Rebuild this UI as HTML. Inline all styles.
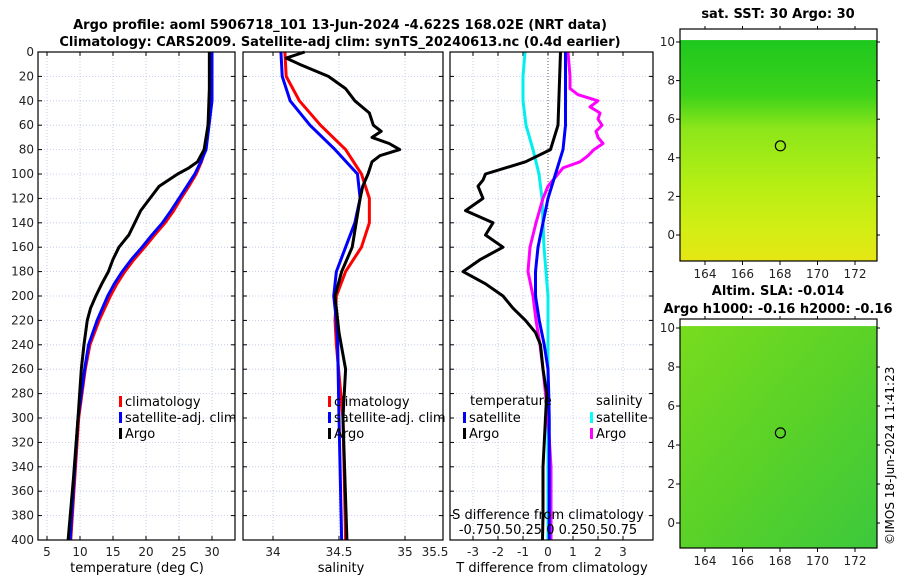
<!DOCTYPE html>
<html><head><meta charset="utf-8"><style>
body{margin:0;background:#fff}
svg{font-family:"DejaVu Sans","Liberation Sans",sans-serif}
</style></head><body>
<svg id="c" width="900" height="580" viewBox="0 0 900 580">
<defs>
<linearGradient id="g1" x1="0" y1="0" x2="0" y2="1">
<stop offset="0" stop-color="#1ec81e"/><stop offset="0.25" stop-color="#3cd21a"/><stop offset="0.4" stop-color="#8ce61a"/><stop offset="0.65" stop-color="#b4ee14"/><stop offset="0.85" stop-color="#d2ee14"/><stop offset="1" stop-color="#e6e614"/>
</linearGradient>
<linearGradient id="g2" x1="0" y1="0" x2="1" y2="1">
<stop offset="0" stop-color="#78dc1e"/><stop offset="0.5" stop-color="#5ad228"/><stop offset="1" stop-color="#3cc83c"/>
</linearGradient>
</defs>
<text x="340" y="29" text-anchor="middle" font-size="13" font-weight="bold">Argo profile: aoml 5906718_101 13-Jun-2024 -4.622S 168.02E (NRT data)</text>
<text x="340" y="46" text-anchor="middle" font-size="13" font-weight="bold">Climatology: CARS2009. Satellite-adj clim: synTS_20240613.nc (0.4d earlier)</text>
<g id="plots"></g>
<text x="778" y="18" text-anchor="middle" font-size="13" font-weight="bold">sat. SST: 30 Argo: 30</text>
<text x="778" y="295" text-anchor="middle" font-size="13" font-weight="bold">Altim. SLA: -0.014</text>
<text x="778" y="313" text-anchor="middle" font-size="13" font-weight="bold">Argo h1000: -0.16 h2000: -0.16</text>
<text transform="translate(894,545) rotate(-90)" font-size="12">©IMOS 18-Jun-2024 11:41:23</text>
</svg>
<script>
const depthTicks=[0,20,40,60,80,100,120,140,160,180,200,220,240,260,280,300,320,340,360,380,400];
const tempTicks=[5,10,15,20,25,30];
const salTicks=[34,34.5,35];
const tdiffTicks=[-3,-2,-1,0,1,2,3];
const lonTicks=[164,166,168,170,172];
const latTicks=[0,2,4,6,8,10];
// panel 1 temperature
const tDepth=[0,40,80,90,100,110,120,130,140,150,160,170,180,190,200,220,240,260,300,350,400];
const tClim=[29.8,29.8,29.0,28.4,27.6,26.5,25.3,24.2,22.9,21.3,19.8,18.2,16.8,15.6,14.6,12.9,11.5,10.8,9.8,9.2,8.6];
const tSat=[30.0,30.0,29.1,28.3,27.4,26.2,25.0,23.8,22.5,20.9,19.4,17.8,16.4,15.2,14.2,12.6,11.3,10.7,9.7,9.1,8.5];
const argoTDepth=[0,30,60,80,90,95,100,105,110,120,130,140,150,160,170,180,190,200,210,220,240,260,300,350,400];
const argoT=[29.6,29.6,29.4,28.8,27.8,26.5,24.8,23.4,22.0,20.6,19.2,18.3,17.4,15.9,15.0,14.3,13.3,12.4,11.6,11.1,10.6,10.2,9.7,9.0,8.2];
// panel 2 salinity
const sDepth=[0,20,40,60,80,100,120,140,160,180,200,220,240,300,400];
const sClim=[34.09,34.10,34.20,34.36,34.55,34.67,34.73,34.73,34.67,34.55,34.48,34.47,34.48,34.53,34.55];
const sSat=[34.06,34.07,34.13,34.28,34.47,34.64,34.66,34.62,34.55,34.48,34.46,34.48,34.49,34.50,34.52];
const argoSDepth=[0,5,10,20,30,40,50,60,65,70,75,80,85,90,100,110,120,140,160,180,200,230,260,300,400];
const argoS=[34.24,34.1,34.2,34.42,34.55,34.62,34.73,34.76,34.82,34.75,34.88,34.96,34.81,34.75,34.72,34.68,34.66,34.63,34.60,34.52,34.47,34.50,34.55,34.53,34.56];
// panel 3 differences
const dDepth=[0,20,40,60,80,100,120,140,160,180,200,220,240,260,280,300,320,360,400];
const dTSat=[0.7,0.7,0.7,0.7,0.6,0.3,0.0,-0.2,-0.4,-0.5,-0.5,-0.35,-0.15,0,0.03,0.05,0.05,0.05,0.05];
const dSSat=[-0.23,-0.25,-0.25,-0.22,-0.15,-0.09,-0.06,-0.05,-0.04,-0.02,0,0,0,0,0,0,0,0,0];
const dTArgoDepth=[0,60,80,90,100,105,110,120,130,140,150,160,170,180,190,200,210,220,230,240,260,280,300,320,340,360,380,400];
const dTArgo=[0.5,0.4,0.1,-0.9,-2.5,-2.6,-2.8,-2.6,-3.3,-2.2,-2.5,-1.8,-2.7,-3.4,-2.5,-1.8,-1.4,-0.9,-0.5,-0.3,-0.2,-0.05,-0.1,-0.15,-0.2,-0.2,-0.2,-0.22];
const dSArgo=[0.2,0.22,0.22,0.30,0.50,0.42,0.52,0.50,0.54,0.48,0.50,0.55,0.46,0.40,0.32,0.15,0.10,0.05,0.0,-0.05,-0.12,-0.18,-0.20,-0.15,-0.12,-0.08,-0.05,0,0.03,0.03];
const dSArgoDepth=[0,20,30,35,40,45,50,55,60,65,70,75,80,85,90,95,100,105,110,120,140,160,180,200,220,240,260,300,340,400];

const NS='http://www.w3.org/2000/svg';
const root=document.getElementById('plots');
function el(t,a,p){const e=document.createElementNS(NS,t);for(const k in a)e.setAttribute(k,a[k]);(p||root).appendChild(e);return e;}
const Y0=52,Y1=540;
const yD=d=>Y0+(d/400)*(Y1-Y0);

function frame(name){
  const g=el('g',{});
  
  
  return g;
}
function gridAndAxes(g,x0,x1,xs,xticks,depthLabels){
  depthTicks.forEach(d=>{
    const l=el('line',{x1:x0,x2:x1,y1:yD(d),y2:yD(d),stroke:'#b8c4e8','stroke-dasharray':'1,2','stroke-width':0.8},g);
    
    
    el('line',{x1:x0,x2:x0+4,y1:yD(d),y2:yD(d),stroke:'#000'},g);
    el('line',{x1:x1-4,x2:x1,y1:yD(d),y2:yD(d),stroke:'#000'},g);
    if(depthLabels){const t=el('text',{x:x0-4,y:yD(d)+4,'text-anchor':'end','font-size':12,fill:'#222'},g);t.textContent=d;
      
      }
  });
  xticks.forEach(v=>{
    const X=xs(v);
    el('line',{x1:X,x2:X,y1:Y0,y2:Y1,stroke:'#b8c4e8','stroke-dasharray':'1,2','stroke-width':0.8},g);
    el('line',{x1:X,x2:X,y1:Y1-4,y2:Y1,stroke:'#000'},g);
    el('line',{x1:X,x2:X,y1:Y0,y2:Y0+4,stroke:'#000'},g);
    const t=el('text',{x:X,y:Y1+16,'text-anchor':'middle','font-size':12,fill:'#222'},g);t.textContent=v;
    
    
  });
}
function line(g,xs,vals,depths,color,name,w){
  const p=el('polyline',{points:vals.map((v,i)=>xs(v)+','+yD(depths[i])).join(' '),fill:'none',stroke:color,'stroke-width':w||3,'stroke-linejoin':'round'},g);
  
  
}
function border(g,x0,x1){el('rect',{x:x0,y:Y0,width:x1-x0,height:Y1-Y0,fill:'none',stroke:'#000','stroke-width':1.2},g);}
function legendEntry(g,x,y,color,text,name){
  el('rect',{x:x,y:y-10,width:3,height:11,fill:color},g);
  const t=el('text',{x:x+6,y:y,'font-size':13,fill:'#000'},g);t.textContent=text;
  
  
}
// Panel 1
{const x0=38,x1=235,xs=v=>47+(v-5)*6.6;const g=frame('temperature-panel');
gridAndAxes(g,x0,x1,xs,tempTicks,true);
line(g,xs,tClim,tDepth,'#ff0000','temp-climatology-line');
line(g,xs,tSat,tDepth,'#0000ff','temp-satellite-line');
line(g,xs,argoT,argoTDepth,'#000','temp-argo-line');
border(g,x0,x1);
legendEntry(g,119,406,'#f00','climatology','legend-climatology');
legendEntry(g,119,422,'#00f','satellite-adj. clim','legend-satellite');
legendEntry(g,119,438,'#000','Argo','legend-argo');
const t=el('text',{x:137,y:572,'text-anchor':'middle','font-size':13},g);t.textContent='temperature (deg C)';}
// Panel 2
{const x0=243,x1=443,xs=v=>273+(v-34)*132;const g=frame('salinity-panel');
gridAndAxes(g,x0,x1,xs,salTicks,false);
line(g,xs,sClim,sDepth,'#ff0000','sal-climatology-line');
line(g,xs,sSat,sDepth,'#0000ff','sal-satellite-line');
line(g,xs,argoS,argoSDepth,'#000','sal-argo-line');
border(g,x0,x1);
legendEntry(g,328,406,'#f00','climatology','legend-climatology-2');
legendEntry(g,328,422,'#00f','satellite-adj. clim','legend-satellite-2');
legendEntry(g,328,438,'#000','Argo','legend-argo-2');
let t=el('text',{x:435,y:556,'text-anchor':'middle','font-size':12,fill:'#222'},g);t.textContent='35.5';
t=el('text',{x:341,y:572,'text-anchor':'middle','font-size':13},g);t.textContent='salinity';}
// Panel 3
{const x0=450,x1=653,xs=v=>548+v*25,ss=v=>548+v*100;const g=frame('difference-panel');
el('rect',{x:x0+1,y:Y1-1,width:x1-x0-2,height:30,fill:'#fff'},g);
gridAndAxes(g,x0,x1,xs,tdiffTicks,false);
el('line',{x1:548,x2:548,y1:Y0,y2:Y1,stroke:'#555','stroke-dasharray':'1,2'},g);
line(g,ss,dSSat,dDepth,'#00f0f0','sdiff-satellite-line');
line(g,ss,dSArgo,dSArgoDepth,'#ff00ff','sdiff-argo-line');
line(g,xs,dTSat,dDepth,'#0000ff','tdiff-satellite-line');
line(g,xs,dTArgo,dTArgoDepth,'#000','tdiff-argo-line');
border(g,x0,x1);
let t=el('text',{x:470,y:405,'font-size':13},g);t.textContent='temperature';
t=el('text',{x:596,y:405,'font-size':13},g);t.textContent='salinity';
legendEntry(g,463,422,'#00f','satellite','legend-t-satellite');
legendEntry(g,463,438,'#000','Argo','legend-t-argo');
legendEntry(g,590,422,'#0ff','satellite','legend-s-satellite');
legendEntry(g,590,438,'#f0f','Argo','legend-s-argo');
t=el('text',{x:548,y:519,'text-anchor':'middle','font-size':13},g);t.textContent='S difference from climatology';
t=el('text',{x:548,y:534,'text-anchor':'middle','font-size':13},g);t.textContent='-0.750.50.25 0  0.250.50.75';
t=el('text',{x:552,y:572,'text-anchor':'middle','font-size':13},g);t.textContent='T difference from climatology';}
// Maps
function map(y0,y1,lat10,lat0,fill,name){
  const x0=680,x1=877,lx=v=>705+(v-164)*18.75,ly=v=>lat0+(lat10-lat0)*v/10;
  const g=el('g',{});
  
  
  el('rect',{x:x0,y:ly(10.1),width:x1-x0,height:y1-ly(10.1),fill:fill},g);
  el('rect',{x:x0,y:y0,width:x1-x0,height:y1-y0,fill:'none',stroke:'#000','stroke-width':1.2},g);
  lonTicks.forEach(v=>{el('line',{x1:lx(v),x2:lx(v),y1:y1,y2:y1+4,stroke:'#000'},g);el('line',{x1:lx(v),x2:lx(v),y1:y0,y2:y0-3,stroke:'#000'},g);
    const t=el('text',{x:lx(v),y:y1+17,'text-anchor':'middle','font-size':12,fill:'#222'},g);t.textContent=v;});
  latTicks.forEach(v=>{el('line',{x1:x0-4,x2:x0,y1:ly(v),y2:ly(v),stroke:'#000'},g);el('line',{x1:x1,x2:x1+3,y1:ly(v),y2:ly(v),stroke:'#000'},g);
    const t=el('text',{x:x0-5,y:ly(v)+4,'text-anchor':'end','font-size':12,fill:'#222'},g);t.textContent=v;});
  el('circle',{cx:lx(168.02),cy:ly(4.62),r:5,fill:'none',stroke:'#000','stroke-width':1.2},g);
}
map(29,261,42,235,'url(#g1)','sst-map');
map(319,548,328,523,'url(#g2)','sla-map');
</script>
</body></html>
